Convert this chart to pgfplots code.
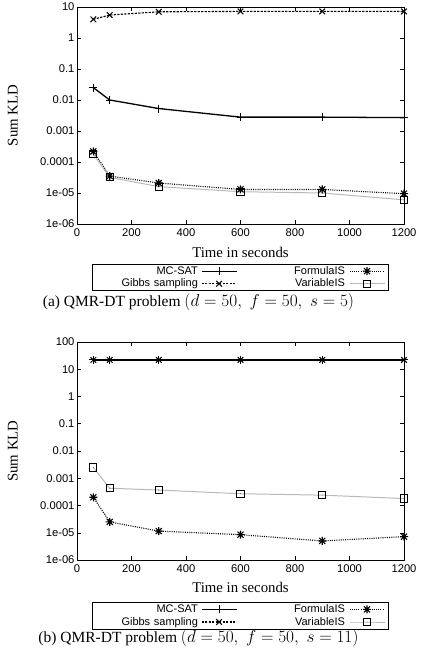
\documentclass[border=0pt]{standalone}
\usepackage{fontspec}
\setmainfont{Liberation Serif}
\setsansfont{Liberation Sans}
\usepackage{pgfplots}
\pgfplotsset{compat=1.18}
\pgfdeclareplotmark{gpstar}{%
  \pgfpathmoveto{\pgfqpoint{-\pgfplotmarksize}{0pt}}\pgfpathlineto{\pgfqpoint{\pgfplotmarksize}{0pt}}%
  \pgfpathmoveto{\pgfqpoint{0pt}{-\pgfplotmarksize}}\pgfpathlineto{\pgfqpoint{0pt}{\pgfplotmarksize}}%
  \pgfpathmoveto{\pgfqpoint{-0.75\pgfplotmarksize}{-0.75\pgfplotmarksize}}\pgfpathlineto{\pgfqpoint{0.75\pgfplotmarksize}{0.75\pgfplotmarksize}}%
  \pgfpathmoveto{\pgfqpoint{-0.75\pgfplotmarksize}{0.75\pgfplotmarksize}}\pgfpathlineto{\pgfqpoint{0.75\pgfplotmarksize}{-0.75\pgfplotmarksize}}%
  \pgfusepathqstroke}
\pgfdeclareplotmark{gpsq}{%
  \pgfpathrectangle{\pgfqpoint{-\pgfplotmarksize}{-\pgfplotmarksize}}{\pgfqpoint{2\pgfplotmarksize}{2\pgfplotmarksize}}%
  \pgfusepathqstroke
  \pgfpathcircle{\pgfpointorigin}{0.35pt}\pgfusepathqfill}
\pgfplotsset{
  qmr/.style={
    scale only axis, width=327pt,
    xmin=0, xmax=1200, xtick={0,200,...,1200},
    tick label style={font=\fontsize{11.2}{13}\selectfont\sffamily},
    yticklabel style={xshift=1pt},
    xticklabel style={yshift=-1pt},
    xlabel={Time in seconds}, ylabel={Sum KLD},
    every axis x label/.style={font=\fontsize{14.8}{17}\selectfont},
    every axis y label/.style={at={(axis description cs:-0.196,0.5)},rotate=90,anchor=center,font=\fontsize{14.8}{17}\selectfont},
    yminorticks=false,
    major tick length=4pt,
    tick style={black, line width=0.5pt},
    axis line style={line width=0.8pt},
    legend columns=2, legend plot pos=right, legend cell align=right,
    legend image code/.code={\draw[mark repeat=2,mark phase=2,##1] plot coordinates {(0pt,0pt) (17.5pt,0pt) (35pt,0pt)};},
    legend style={font=\fontsize{11}{12}\selectfont\sffamily, draw=black, line width=0.6pt,
      inner xsep=3.5pt, inner ysep=0.5pt,
      nodes={inner ysep=1pt, inner xsep=1pt, text height=8.3pt, text depth=2.3pt},
      /tikz/column 1/.style={column sep=2pt, nodes={text width=101pt, align=right}},
      /tikz/column 2/.style={column sep=56pt},
      /tikz/column 3/.style={column sep=3pt}},
  },
  mcsat/.style={black, line width=1.3pt, mark=+, mark size=4pt, mark options={line width=0.9pt}},
  gibbs/.style={black, line width=1.1pt, dash pattern=on 2.2pt off 1.3pt, mark=x, mark size=4pt, mark options={solid, line width=1pt}},
  fis/.style={black, line width=1.1pt, dash pattern=on 1pt off 1.2pt, mark=gpstar, mark size=4pt, mark options={solid, line width=1.1pt}},
  vis/.style={gray!55, line width=1pt, mark=gpsq, mark size=3.6pt, mark options={solid, black, line width=1pt}},
}
\newcommand\capmath[1]{{\fontsize{18}{20}\selectfont$#1$}}
\begin{document}
\begin{tikzpicture}[x=1pt,y=1pt]
\path[use as bounding box] (0,0) rectangle (424,650);
\begin{axis}[ymode=log, /pgf/number format/assume math mode=true, /pgf/number format/1000 sep={}, qmr, at={(77pt,426pt)}, anchor=south west, height=217pt,
  ymin=1e-6, ymax=10,
  ytick={1e-6,1e-5,1e-4,1e-3,1e-2,1e-1,1,10},
  yticklabels={1e-06,1e-05,0.0001,0.001,0.01,0.1,1,10},
  xlabel style={at={(axis description cs:0.5,-0.129)},anchor=center},
  legend style={at={(axis description cs:0.5,-0.2465)},anchor=center}]
\addplot[mcsat] coordinates {(60,0.025) (120,0.0100) (300,0.0053) (600,0.0028) (900,0.0028) (1200,0.0027)};
\addlegendentry{MC-SAT}
\addplot[fis] coordinates {(60,2.2e-4) (120,3.5e-5) (300,2.1e-5) (600,1.3e-5) (900,1.3e-5) (1200,9.5e-6)};
\addlegendentry{FormulaIS}
\addplot[gibbs] coordinates {(60,4.0) (120,5.5) (300,7.0) (600,7.2) (900,7.2) (1200,7.2)};
\addlegendentry{Gibbs sampling}
\addplot[vis] coordinates {(60,1.8e-4) (120,3.2e-5) (300,1.6e-5) (600,1.1e-5) (900,1.0e-5) (1200,6.0e-6)};
\addlegendentry{VariableIS}
\end{axis}
\node[font=\fontsize{15.5}{18}\selectfont] at (198.5,348) {(a) QMR-DT problem \capmath{(d=50,\; f=50,\; s=5)}};
\begin{axis}[ymode=log, /pgf/number format/assume math mode=true, /pgf/number format/1000 sep={}, qmr, at={(77pt,90pt)}, anchor=south west, height=218pt,
  ymin=1e-6, ymax=100,
  ytick={1e-6,1e-5,1e-4,1e-3,1e-2,1e-1,1,10,100},
  yticklabels={1e-06,1e-05,0.0001,0.001,0.01,0.1,1,10,100},
  xlabel style={at={(axis description cs:0.5,-0.124)},anchor=center},
  legend style={at={(axis description cs:0.5,-0.2555)},anchor=center}]
\addplot[mcsat] coordinates {(60,22) (120,22) (300,22) (600,22) (900,22) (1200,22)};
\addlegendentry{MC-SAT}
\addplot[fis] coordinates {(60,2.0e-4) (120,2.5e-5) (300,1.15e-5) (600,8.5e-6) (900,5.0e-6) (1200,7.2e-6)};
\addlegendentry{FormulaIS}
\addplot[gibbs] coordinates {(60,22) (120,22) (300,22) (600,22) (900,22) (1200,22)};
\addlegendentry{Gibbs sampling}
\addplot[vis] coordinates {(60,2.5e-3) (120,4.3e-4) (300,3.7e-4) (600,2.7e-4) (900,2.4e-4) (1200,1.8e-4)};
\addlegendentry{VariableIS}
\end{axis}
\node[font=\fontsize{15.5}{18}\selectfont] at (198.5,12) {(b) QMR-DT problem \capmath{(d=50,\; f=50,\; s=11)}};
\end{tikzpicture}
\end{document}
